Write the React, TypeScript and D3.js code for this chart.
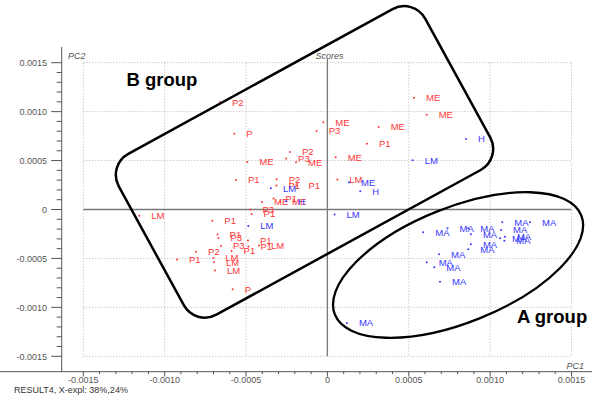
import React, { useEffect, useRef } from "react";
import * as d3 from "d3";

const WIDTH = 592;
const HEIGHT = 401;
const FONT = "'Liberation Sans', Arial, sans-serif";

// tick values and their printed labels (same on both axes)
const tickValues = [-0.0015, -0.001, -0.0005, 0, 0.0005, 0.001, 0.0015];
const xTickLabels = ["-0.0015", "-0.0010", "-0.0005", "0", "0.0005", "0.0010", "0.0015"];
const yTickLabels = ["-0.0015", "-0.0010", "-0.0005", "0", "0.0005", "0.0010", "0.0015"];

// red samples (scores)
const redLabels = [
  "P2", "P", "ME", "P3", "ME", "P1", "ME", "ME",
  "P2", "P3", "ME", "ME", "ME",
  "P1", "P2", "P1", "P1", "LM",
  "ME", "P1", "ME",
  "P3", "P1", "LM",
  "P1", "P1", "P3", "P3", "P1", "P2", "P1",
  "LM", "LM", "LM", "P",
  "P1", "P1", "LM"
];
const redPC1 = [
  -6.6e-4, -5.72e-4, -0.25e-4, -0.66e-4, 3.15e-4, 2.43e-4, 5.32e-4, 6.1e-4,
  -2.3e-4, -2.54e-4, -1.93e-4, -4.92e-4, 0.51e-4,
  -5.62e-4, -3.12e-4, -3.13e-4, -1.9e-4, 0.61e-4,
  -4.02e-4, -3.31e-4, -2.91e-4,
  -4.73e-4, -4.66e-4, -11.56e-4,
  -7.07e-4, -6.75e-4, -6.69e-4, -6.54e-4, -5.89e-4, -8.07e-4, -9.24e-4,
  -7.01e-4, -6.97e-4, -6.91e-4, -5.82e-4,
  -4.88e-4, -4.85e-4, -4.2e-4
];
const redPC2 = [
  10.95e-4, 7.75e-4, 8.91e-4, 8.02e-4, 8.43e-4, 6.72e-4, 11.42e-4, 9.69e-4,
  5.88e-4, 5.21e-4, 4.82e-4, 4.85e-4, 5.33e-4,
  3.01e-4, 3.09e-4, 2.45e-4, 2.45e-4, 3.07e-4,
  0.77e-4, 1.12e-4, 0.77e-4,
  0, -0.46e-4, -0.63e-4,
  -1.15e-4, -2.55e-4, -2.91e-4, -3.73e-4, -4.24e-4, -4.31e-4, -5.11e-4,
  -4.96e-4, -5.39e-4, -6.23e-4, -8.15e-4,
  -3.17e-4, -3.78e-4, -3.68e-4
];

// blue samples (scores)
const blueLabels = [
  "H", "LM", "ME", "H", "LM", "LM", "H", "LM",
  "MA", "MA", "MA", "MA", "MA", "MA", "MA", "MA", "MA",
  "MA", "MA", "MA", "MA", "MA", "MA", "MA", "MA"
];
const bluePC1 = [
  8.52e-4, 5.24e-4, 1.33e-4, 2.02e-4, 0.44e-4, -3.47e-4, -2.54e-4, -4.86e-4,
  5.89e-4, 7.38e-4, 8.66e-4, 8.82e-4, 10.75e-4, 12.45e-4, 10.67e-4, 10.61e-4, 10.91e-4,
  10.87e-4, 8.82e-4, 8.66e-4, 6.86e-4, 6.1e-4, 6.57e-4, 6.92e-4, 1.2e-4
];
const bluePC2 = [
  7.2e-4, 5.03e-4, 2.78e-4, 1.86e-4, -0.51e-4, 2.17e-4, 0.84e-4, -1.69e-4,
  -2.33e-4, -1.92e-4, -1.92e-4, -2.53e-4, -1.31e-4, -1.31e-4, -2.09e-4, -2.94e-4, -2.78e-4,
  -3.19e-4, -3.56e-4, -4.07e-4, -4.58e-4, -5.39e-4, -5.91e-4, -7.38e-4, -11.6e-4
];

// hand drawn group outlines (centre in score units)
const groupB = { label: "B group", cx: -1.41e-4, cy: 4.86e-4 };
const groupA = { label: "A group", cx: 8.03e-4, cy: -5.67e-4 };

export default function App() {
  const ref = useRef<SVGSVGElement>(null);

  useEffect(() => {
    const svg = d3.select(ref.current);
    svg.selectAll("*").remove();

    const x = d3.scaleLinear().domain([-0.0015, 0.0015]).range([83.3, 571.5]);
    const y = d3.scaleLinear().domain([-0.0015, 0.0015]).range([356.3, 62.7]);

    const axisY = 371.7;
    const axisX = 61.7;

    svg.append("rect").attr("width", WIDTH).attr("height", HEIGHT).attr("fill", "#fff");

    // dotted grid
    const grid = svg.append("g").attr("stroke", "#b4b4b4").attr("stroke-dasharray", "1,2");
    grid
      .selectAll(".gx")
      .data(tickValues)
      .enter()
      .append("line")
      .attr("x1", d => x(d))
      .attr("x2", d => x(d))
      .attr("y1", y(0.0015))
      .attr("y2", y(-0.0015));
    grid
      .selectAll(".gy")
      .data(tickValues)
      .enter()
      .append("line")
      .attr("x1", x(-0.0015))
      .attr("x2", x(0.0015))
      .attr("y1", d => y(d))
      .attr("y2", d => y(d));

    // zero lines
    svg
      .append("line")
      .attr("x1", x(-0.0015))
      .attr("x2", x(0.0015))
      .attr("y1", y(0))
      .attr("y2", y(0))
      .attr("stroke", "#7a7a7a")
      .attr("stroke-width", 1.3);
    svg
      .append("line")
      .attr("x1", x(0))
      .attr("x2", x(0))
      .attr("y1", y(0.0015) - 4)
      .attr("y2", y(-0.0015))
      .attr("stroke", "#7a7a7a")
      .attr("stroke-width", 1.3);

    // axes
    const minor = d3.range(-15, 16).map(i => i * 1e-4);
    const ax = svg.append("g").attr("stroke", "#555").attr("stroke-width", 1);
    ax.append("line").attr("x1", 0).attr("x2", WIDTH).attr("y1", axisY).attr("y2", axisY);
    ax.append("line").attr("x1", axisX).attr("x2", axisX).attr("y1", 47).attr("y2", axisY);
    ax.selectAll(".mx")
      .data(minor)
      .enter()
      .append("line")
      .attr("x1", d => x(d))
      .attr("x2", d => x(d))
      .attr("y1", axisY)
      .attr("y2", (d, i) => (i % 5 === 0 ? axisY + 5 : axisY + 2.5));
    ax.selectAll(".my")
      .data(minor)
      .enter()
      .append("line")
      .attr("y1", d => y(d))
      .attr("y2", d => y(d))
      .attr("x1", axisX)
      .attr("x2", (d, i) => (i % 5 === 0 ? axisX - 10.5 : axisX - 5));

    svg
      .selectAll(".xl")
      .data(tickValues)
      .enter()
      .append("text")
      .attr("x", d => x(d))
      .attr("y", 383)
      .attr("text-anchor", "middle")
      .attr("font-family", FONT)
      .attr("font-size", 9)
      .attr("fill", "#555")
      .text((d, i) => xTickLabels[i]);
    svg
      .selectAll(".yl")
      .data(tickValues)
      .enter()
      .append("text")
      .attr("x", 47)
      .attr("y", d => y(d) + 3.2)
      .attr("text-anchor", "end")
      .attr("font-family", FONT)
      .attr("font-size", 9)
      .attr("fill", "#555")
      .text((d, i) => yTickLabels[i]);

    const italic = (tx, ty, s, anchor) =>
      svg
        .append("text")
        .attr("x", tx)
        .attr("y", ty)
        .attr("text-anchor", anchor)
        .attr("font-family", FONT)
        .attr("font-style", "italic")
        .attr("font-size", 9)
        .attr("fill", "#555")
        .text(s);
    italic(68, 59, "PC2", "start");
    italic(584, 369, "PC1", "end");
    italic(x(0) + 2, 59, "Scores", "middle");

    svg
      .append("text")
      .attr("x", 14)
      .attr("y", 393)
      .attr("font-family", FONT)
      .attr("font-size", 9)
      .attr("fill", "#333")
      .text("RESULT4, X-expl: 38%,24%");

    // sample points
    const drawSeries = (labels, pc1, pc2, color) => {
      const g = svg.append("g").attr("fill", color);
      const rows = labels.map((l, i) => ({ l, px: pc1[i], py: pc2[i] }));
      g.selectAll("circle")
        .data(rows)
        .enter()
        .append("circle")
        .attr("cx", d => x(d.px))
        .attr("cy", d => y(d.py))
        .attr("r", 1);
      g.selectAll("text")
        .data(rows)
        .enter()
        .append("text")
        .attr("x", d => x(d.px) + 12)
        .attr("y", d => y(d.py) + 3.4)
        .attr("font-family", FONT)
        .attr("font-size", 9.5)
        .text(d => d.l);
    };
    drawSeries(redLabels, redPC1, redPC2, "#ff3636");
    drawSeries(blueLabels, bluePC1, bluePC2, "#3636ff");

    // group outlines
    svg
      .append("rect")
      .attr("transform", `translate(${x(groupB.cx)},${y(groupB.cy)}) rotate(-28.7)`)
      .attr("x", -174.6)
      .attr("y", -91.7)
      .attr("width", 349.3)
      .attr("height", 183.4)
      .attr("rx", 24)
      .attr("fill", "none")
      .attr("stroke", "#000")
      .attr("stroke-width", 2.5);
    svg
      .append("ellipse")
      .attr("transform", `translate(${x(groupA.cx)},${y(groupA.cy)}) rotate(-21.9)`)
      .attr("rx", 132.8)
      .attr("ry", 57.5)
      .attr("fill", "none")
      .attr("stroke", "#000")
      .attr("stroke-width", 2.3);

    const groupText = (tx, ty, s) =>
      svg
        .append("text")
        .attr("x", tx)
        .attr("y", ty)
        .attr("font-family", FONT)
        .attr("font-weight", "bold")
        .attr("font-size", 18.5)
        .attr("fill", "#000")
        .text(s);
    groupText(126.5, 85.7, groupB.label);
    groupText(517, 323.3, groupA.label);
  }, []);

  return (
    <svg
      ref={ref}
      width={WIDTH}
      height={HEIGHT}
      style={{ position: "absolute", left: 0, top: 0, display: "block" }}
    />
  );
}
